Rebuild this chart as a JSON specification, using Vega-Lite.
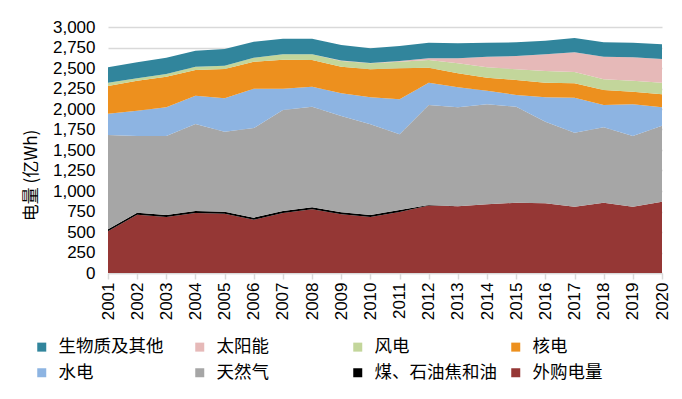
{
  "$schema": "https://vega.github.io/schema/vega-lite/v6.json",
  "autosize": "none",
  "width": 554,
  "height": 246,
  "padding": {"left": 108, "top": 27, "right": 20, "bottom": 126},
  "background": "white",
  "config": {"view": {"stroke": null}},
  "data": {"values": [
    {"year": 2001, "外购电量": 508, "煤、石油焦和油": 25, "天然气": 1150, "水电": 260, "核电": 337, "风电": 41, "太阳能": 0, "生物质及其他": 187},
    {"year": 2002, "外购电量": 710, "煤、石油焦和油": 25, "天然气": 936, "水电": 308, "核电": 366, "风电": 29, "太阳能": 0, "生物质及其他": 196},
    {"year": 2003, "外购电量": 682, "煤、石油焦和油": 25, "天然气": 964, "水电": 350, "核电": 373, "风电": 33, "太阳能": 0, "生物质及其他": 199},
    {"year": 2004, "外购电量": 731, "煤、石油焦和油": 25, "天然气": 1061, "水电": 346, "核电": 313, "风电": 40, "太阳能": 0, "生物质及其他": 195},
    {"year": 2005, "外购电量": 723, "煤、石油焦和油": 25, "天然气": 975, "水电": 407, "核电": 358, "风电": 40, "太阳能": 0, "生物质及其他": 204},
    {"year": 2006, "外购电量": 650, "煤、石油焦和油": 25, "天然气": 1093, "水电": 480, "核电": 329, "风电": 49, "太阳能": 0, "生物质及其他": 195},
    {"year": 2007, "外购电量": 731, "煤、石油焦和油": 25, "天然气": 1232, "水电": 260, "核电": 353, "风电": 66, "太阳能": 0, "生物质及其他": 190},
    {"year": 2008, "外购电量": 776, "煤、石油焦和油": 25, "天然气": 1227, "水电": 244, "核电": 325, "风电": 70, "太阳能": 0, "生物质及其他": 190},
    {"year": 2009, "外购电量": 715, "煤、石油焦和油": 25, "天然气": 1175, "水电": 276, "核电": 325, "风电": 69, "太阳能": 5, "生物质及其他": 190},
    {"year": 2010, "外购电量": 682, "煤、石油焦和油": 25, "天然气": 1106, "水电": 329, "核电": 342, "风电": 73, "太阳能": 5, "生物质及其他": 178},
    {"year": 2011, "外购电量": 743, "煤、石油焦和油": 25, "天然气": 923, "水电": 427, "核电": 378, "风电": 81, "太阳能": 8, "生物质及其他": 183},
    {"year": 2012, "外购电量": 824, "煤、石油焦和油": 5, "天然气": 1220, "水电": 272, "核电": 183, "风电": 93, "太阳能": 21, "生物质及其他": 191},
    {"year": 2013, "外购电量": 813, "煤、石油焦和油": 0, "天然气": 1208, "水电": 243, "核电": 171, "风电": 122, "太阳能": 61, "生物质及其他": 183},
    {"year": 2014, "外购电量": 837, "煤、石油焦和油": 0, "天然气": 1220, "水电": 166, "核电": 157, "风电": 130, "太阳能": 128, "生物质及其他": 171},
    {"year": 2015, "外购电量": 858, "煤、石油焦和油": 0, "天然气": 1170, "水电": 143, "核电": 183, "风电": 130, "太阳能": 162, "生物质及其他": 167},
    {"year": 2016, "外购电量": 850, "煤、石油焦和油": 0, "天然气": 995, "水电": 297, "核电": 179, "风电": 142, "太阳能": 204, "生物质及其他": 166},
    {"year": 2017, "外购电量": 809, "煤、石油焦和油": 0, "天然气": 902, "水电": 427, "核电": 175, "风电": 138, "太阳能": 240, "生物质及其他": 175},
    {"year": 2018, "外购电量": 858, "煤、石油焦和油": 0, "天然气": 919, "水电": 272, "核电": 183, "风电": 130, "太阳能": 276, "生物质及其他": 175},
    {"year": 2019, "外购电量": 809, "煤、石油焦和油": 0, "天然气": 862, "水电": 386, "核电": 154, "风电": 134, "太阳能": 285, "生物质及其他": 179},
    {"year": 2020, "外购电量": 870, "煤、石油焦和油": 0, "天然气": 927, "水电": 224, "核电": 158, "风电": 142, "太阳能": 289, "生物质及其他": 179}
  ]},
  "transform": [
    {"fold": ["外购电量", "煤、石油焦和油", "天然气", "水电", "核电", "风电", "太阳能", "生物质及其他"], "as": ["series", "value"]},
    {"calculate": "indexof(['外购电量','煤、石油焦和油','天然气','水电','核电','风电','太阳能','生物质及其他'], datum.series)", "as": "stackOrder"}
  ],
  "mark": {"type": "area", "interpolate": "linear"},
  "encoding": {
    "x": {
      "field": "year", "type": "quantitative",
      "scale": {"domain": [2001, 2020], "nice": false, "zero": false},
      "axis": {
        "title": null,
        "values": [2001,2002,2003,2004,2005,2006,2007,2008,2009,2010,2011,2012,2013,2014,2015,2016,2017,2018,2019,2020],
        "format": "d",
        "grid": false,
        "domainColor": "#D9D9D9", "domainWidth": 1.5,
        "tickColor": "#D9D9D9", "tickSize": 6, "tickWidth": 1.5,
        "labelAngle": -90, "labelFont": "Liberation Sans", "labelFontSize": 17,
        "labelColor": "#000000", "labelPadding": 3, "labelFlush": false, "labelOverlap": false
      }
    },
    "y": {
      "field": "value", "type": "quantitative", "stack": "zero",
      "scale": {"domain": [0, 3000], "nice": false},
      "axis": {
        "title": "电量 (亿Wh)",
        "titleFont": "Noto Sans CJK SC", "titleFontSize": 17, "titleFontWeight": "normal",
        "titleColor": "#000000", "titleAngle": -90, "titleX": -77, "titleY": 148,
        "titleAlign": "center", "titleBaseline": "middle",
        "values": [0,250,500,750,1000,1250,1500,1750,2000,2250,2500,2750,3000],
        "format": ",d",
        "domain": false, "ticks": false,
        "gridColor": "#D9D9D9", "gridWidth": 1.5,
        "labelFont": "Liberation Sans", "labelFontSize": 17, "labelColor": "#000000", "labelPadding": 13
      }
    },
    "color": {
      "field": "series", "type": "nominal",
      "scale": {
        "domain": ["生物质及其他", "太阳能", "风电", "核电", "水电", "天然气", "煤、石油焦和油", "外购电量"],
        "range": ["#31859C", "#E6B9B8", "#C3D69B", "#ED901E", "#8DB4E2", "#A6A6A6", "#000000", "#953735"]
      },
      "legend": {
        "title": null, "orient": "none", "legendX": -75, "legendY": 311,
        "direction": "horizontal",
        "columns": 4, "gridAlign": "all", "columnPadding": 10, "rowPadding": 7,
        "symbolType": "square", "symbolSize": 81, "symbolStrokeWidth": 0, "symbolOpacity": 1,
        "labelFont": "Noto Sans CJK SC", "labelFontSize": 17.5, "labelColor": "#000000",
        "labelOffset": 8, "labelLimit": 300
      }
    },
    "order": {"field": "stackOrder", "type": "quantitative"}
  }
}
